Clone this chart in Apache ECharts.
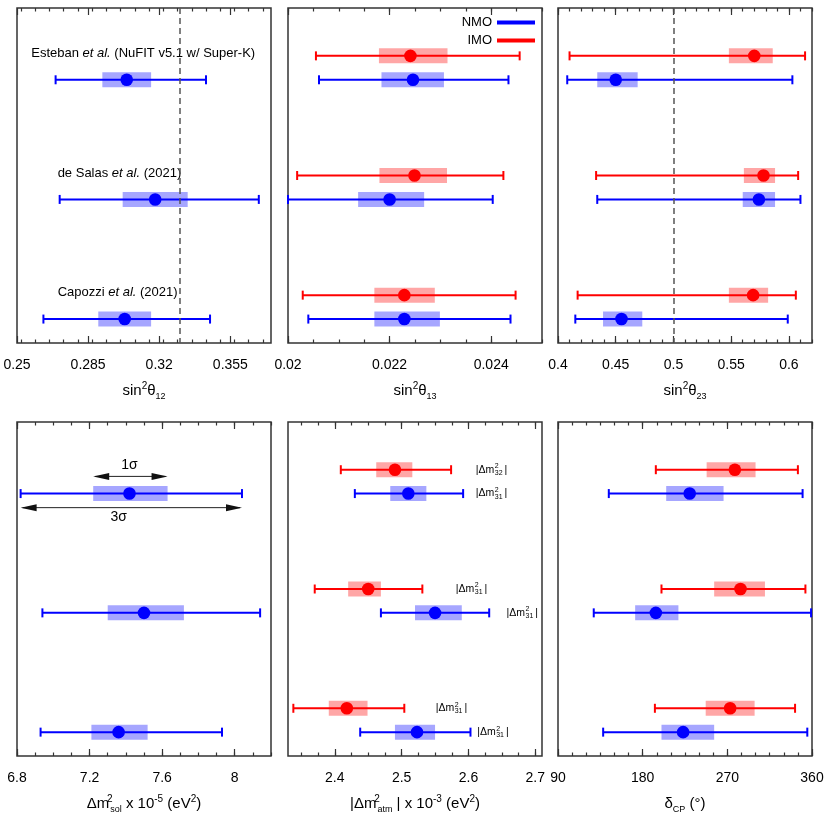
<!DOCTYPE html>
<html>
<head>
<meta charset="utf-8">
<script src="https://cdn.jsdelivr.net/npm/echarts@6/dist/echarts.min.js"></script>
<style>
html, body { margin: 0; padding: 0; background: #fff; }
#main { width: 830px; height: 830px; }
</style>
</head>
<body>
<div id="main"></div>
<script>
// rows on the hidden y axis (inverted): IMO sits just above NMO for each fit
const fitNames = ['Esteban', 'de Salas', 'Capozzi']
const fitTags = ['(NuFIT v5.1 w/ Super-K)', '(2021)', '(2021)']
const rowIMO = [2, 7, 12]
const rowNMO = [3, 8, 13]

// each entry: [3σ low, 1σ low, best fit, 1σ high, 3σ high]
const s12NMO = [[0.269, 0.292, 0.304, 0.316, 0.343], [0.271, 0.302, 0.318, 0.334, 0.369], [0.263, 0.290, 0.303, 0.316, 0.345]]
const s13NMO = [[0.02061, 0.02184, 0.02246, 0.02307, 0.02434], [0.02000, 0.02138, 0.02200, 0.02268, 0.02403], [0.02040, 0.02170, 0.02229, 0.02299, 0.02438]]
const s13IMO = [[0.02055, 0.02179, 0.02241, 0.02314, 0.02456], [0.02018, 0.02180, 0.02249, 0.02313, 0.02424], [0.02029, 0.02170, 0.02229, 0.02289, 0.02448]]
const s23NMO = [[0.408, 0.434, 0.450, 0.469, 0.603], [0.434, 0.560, 0.574, 0.588, 0.610], [0.415, 0.439, 0.455, 0.473, 0.599]]
const s23IMO = [[0.410, 0.548, 0.570, 0.586, 0.614], [0.433, 0.561, 0.578, 0.588, 0.608], [0.417, 0.548, 0.569, 0.582, 0.606]]
const dm21NMO = [[6.82, 7.22, 7.42, 7.63, 8.04], [6.94, 7.30, 7.50, 7.72, 8.14], [6.93, 7.21, 7.36, 7.52, 7.93]]
const dm3lNMO = [[2.430, 2.483, 2.510, 2.537, 2.592], [2.469, 2.520, 2.550, 2.590, 2.631], [2.438, 2.490, 2.523, 2.550, 2.603]]
const dm3lIMO = [[2.409, 2.462, 2.490, 2.516, 2.574], [2.370, 2.420, 2.450, 2.469, 2.531], [2.338, 2.391, 2.418, 2.449, 2.504]]
const dcpNMO = [[144, 205, 230, 266, 350], [128, 172, 194, 218, 359], [138, 200, 223, 256, 355]]
const dcpIMO = [[194, 248, 278, 300, 345], [200, 256, 284, 310, 353], [193, 247, 273, 299, 342]]

// reference lines (dashed)
const refS12 = [0.332]
const refS23 = [0.5]

// tick labels
const ticksS12 = [0.25, 0.285, 0.32, 0.355]
const ticksS13 = [0.02, 0.022, 0.024]
const ticksS23 = [0.4, 0.45, 0.5, 0.55, 0.6]
const ticksDm21 = [6.8, 7.2, 7.6, 8]
const ticksDm3l = [2.4, 2.5, 2.6, 2.7]
const ticksDcp = [90, 180, 270, 360]

// annotations
const sigmaLabels = ['1σ', '3σ']
const sigmaArrowY = [2.28, 3.59]
const sigmaTextX = [7.42, 7.36]
const sigmaTextY = [1.81, 4.0]
const fitLabelX = [0.257, 0.27, 0.27]
const fitLabelY = [1.9, 6.9, 11.9]
const atmSubIMO = ['32', '31', '31']
const atmSubNMO = ['31', '31', '31']
const atmLabelXIMO = [2.611, 2.581, 2.551]
const atmLabelXNMO = [2.611, 2.657, 2.613]

const FONT = '"Liberation Sans", Arial, Helvetica, sans-serif'
const BLUE = '#0000ff', RED = '#ff0000'
const BLUE_BOX = 'rgba(0,0,255,0.35)', RED_BOX = 'rgba(255,0,0,0.35)'

const nameRich = {
  t: { fontSize: 15, lineHeight: 20, fontFamily: FONT, color: '#000' },
  sp: { fontSize: 10, lineHeight: 10, verticalAlign: 'top', fontFamily: FONT, color: '#000' },
  sz: { fontSize: 10, lineHeight: 10, verticalAlign: 'top', fontFamily: FONT, color: '#000', width: 1 },
  sb: { fontSize: 9, lineHeight: 6, verticalAlign: 'bottom', fontFamily: FONT, color: '#000' }
}

const panels = [
  { range: [0.25, 0.375], major: ticksS12, step: 0.007, name: '{t|sin}{sp|2}{t|θ}{sb|12}' },
  { range: [0.02, 0.025], major: ticksS13, step: 0.0005, name: '{t|sin}{sp|2}{t|θ}{sb|13}' },
  { range: [0.4, 0.62], major: ticksS23, step: 0.01, name: '{t|sin}{sp|2}{t|θ}{sb|23}' },
  { range: [6.8, 8.2], major: ticksDm21, step: 0.1, name: '{t|Δm}{sz|2}{sb|sol}{t| x 10}{sp|-5}{t| (eV}{sp|2}{t|)}' },
  { range: [2.33, 2.71], major: ticksDm3l, step: 0.025, name: '{t||Δm}{sz|2}{sb|atm}{t| | x 10}{sp|-3}{t| (eV}{sp|2}{t|)}' },
  { range: [90, 360], major: ticksDcp, step: 15, name: '{t|δ}{sb|CP}{t| (°)}' }
]

function minorTicks(min, max, step) {
  const out = []
  for (let k = Math.ceil(min / step - 1e-9); k * step <= max + 1e-9; k++) out.push(+(k * step).toFixed(6))
  return out
}

const colLeft = [17, 288, 558]
const rowTop = [8, 422]
const rowH = [335, 334]
const W = 254

const grid = [], xAxis = [], yAxis = [], series = []
const tickStyle = { color: '#333', width: 1.2 }

panels.forEach((p, i) => {
  const left = colLeft[i % 3], top = rowTop[Math.floor(i / 3)], height = rowH[Math.floor(i / 3)]
  const g = grid.length
  grid.push({ left, top, width: W, height, show: true, borderColor: '#333', borderWidth: 1.5, outerBoundsMode: 'none' })
  grid.push({ left, top, width: W, height, show: false, outerBoundsMode: 'none' })
  const minor = minorTicks(p.range[0], p.range[1], p.step)
  const base = { type: 'value', min: p.range[0], max: p.range[1], axisLine: { show: false, onZero: false }, splitLine: { show: false } }
  xAxis.push(Object.assign({}, base, {
    gridIndex: g, position: 'bottom',
    axisTick: { inside: true, length: 7, customValues: p.major, lineStyle: tickStyle },
    axisLabel: { customValues: p.major, margin: 15, fontSize: 14, fontFamily: FONT, color: '#000', formatter: v => String(v) },
    name: p.name, nameLocation: 'middle', nameGap: 38, nameTextStyle: { rich: nameRich }
  }))
  xAxis.push(Object.assign({}, base, {
    gridIndex: g, position: 'top',
    axisTick: { inside: true, length: 7, customValues: p.major, lineStyle: tickStyle },
    axisLabel: { show: false }
  }))
  xAxis.push(Object.assign({}, base, {
    gridIndex: g + 1, position: 'bottom',
    axisTick: { inside: true, length: 3.5, customValues: minor, lineStyle: tickStyle },
    axisLabel: { show: false }
  }))
  xAxis.push(Object.assign({}, base, {
    gridIndex: g + 1, position: 'top',
    axisTick: { inside: true, length: 3.5, customValues: minor, lineStyle: tickStyle },
    axisLabel: { show: false }
  }))
  yAxis.push({ gridIndex: g, type: 'value', min: 0, max: 14, inverse: true, show: false })
  yAxis.push({ gridIndex: g + 1, type: 'value', min: 0, max: 14, inverse: true, show: false })
})

function errBars(name, rows, vals, color, fill, panel, extra) {
  return Object.assign({
    type: 'custom', name, xAxisIndex: panel * 4, yAxisIndex: panel * 2,
    itemStyle: { color },
    encode: { x: [1, 2, 3, 4, 5], y: 0 },
    data: vals.map((v, k) => [rows[k]].concat(v)),
    renderItem: (params, api) => {
      const y = api.value(0)
      const a3 = api.coord([api.value(1), y])
      const a1 = api.coord([api.value(2), y])
      const b = api.coord([api.value(3), y])
      const b1 = api.coord([api.value(4), y])
      const b3 = api.coord([api.value(5), y])
      const cy = b[1]
      const ln = { stroke: color, lineWidth: 2 }
      return {
        type: 'group', children: [
          { type: 'rect', shape: { x: a1[0], y: cy - 7.5, width: b1[0] - a1[0], height: 15 }, style: { fill } },
          { type: 'line', shape: { x1: a3[0], y1: cy, x2: b3[0], y2: cy }, style: ln },
          { type: 'line', shape: { x1: a3[0], y1: cy - 4.5, x2: a3[0], y2: cy + 4.5 }, style: ln },
          { type: 'line', shape: { x1: b3[0], y1: cy - 4.5, x2: b3[0], y2: cy + 4.5 }, style: ln },
          { type: 'circle', shape: { cx: b[0], cy, r: 6.3 }, style: { fill: color } }
        ]
      }
    }
  }, extra || {})
}

function dashed(vals) {
  return {
    silent: true, symbol: ['none', 'none'], label: { show: false },
    lineStyle: { color: '#555', type: [6, 4], width: 1.5 },
    data: vals.map(v => ({ xAxis: v }))
  }
}

series.push(errBars('NMO', rowNMO, s12NMO, BLUE, BLUE_BOX, 0, { markLine: dashed(refS12) }))
series.push(errBars('IMO', rowIMO, s13IMO, RED, RED_BOX, 1))
series.push(errBars('NMO', rowNMO, s13NMO, BLUE, BLUE_BOX, 1))
series.push(errBars('IMO', rowIMO, s23IMO, RED, RED_BOX, 2, { markLine: dashed(refS23) }))
series.push(errBars('NMO', rowNMO, s23NMO, BLUE, BLUE_BOX, 2))
series.push(errBars('NMO', rowNMO, dm21NMO, BLUE, BLUE_BOX, 3))
series.push(errBars('IMO', rowIMO, dm3lIMO, RED, RED_BOX, 4))
series.push(errBars('NMO', rowNMO, dm3lNMO, BLUE, BLUE_BOX, 4))
series.push(errBars('IMO', rowIMO, dcpIMO, RED, RED_BOX, 5))
series.push(errBars('NMO', rowNMO, dcpNMO, BLUE, BLUE_BOX, 5))

// fit names in the first panel
series.push({
  type: 'custom', xAxisIndex: 0, yAxisIndex: 0, silent: true,
  encode: { x: 0, y: 1 },
  data: fitLabelX.map((x, k) => [x, fitLabelY[k]]),
  renderItem: (params, api) => {
    const k = params.dataIndex
    const pt = api.coord([api.value(0), api.value(1)])
    return {
      type: 'text', x: pt[0], y: pt[1],
      style: {
        text: '{n|' + fitNames[k] + ' }{i|et al.}{n| ' + fitTags[k] + '}',
        align: 'left', verticalAlign: 'middle',
        rich: {
          n: { fontSize: 13, fontFamily: FONT, fill: '#000' },
          i: { fontSize: 13, fontFamily: FONT, fill: '#000', fontStyle: 'italic' }
        }
      }
    }
  }
})

// 1σ / 3σ arrows in the Δm²sol panel, taken from the first fit
const esteban = dm21NMO[0]
series.push({
  type: 'custom', xAxisIndex: 12, yAxisIndex: 6, silent: true,
  encode: { x: [0, 1], y: 2 },
  data: [[esteban[1], esteban[3], sigmaArrowY[0]], [esteban[0], esteban[4], sigmaArrowY[1]]],
  renderItem: (params, api) => {
    const k = params.dataIndex
    const a = api.coord([api.value(0), api.value(2)])
    const b = api.coord([api.value(1), api.value(2)])
    const t = api.coord([sigmaTextX[k], sigmaTextY[k]])
    const L = 16, H = 3.5, y = a[1]
    return {
      type: 'group', children: [
        { type: 'line', shape: { x1: a[0] + 2, y1: y, x2: b[0] - 2, y2: y }, style: { stroke: '#222', lineWidth: 1 } },
        { type: 'polygon', shape: { points: [[a[0], y], [a[0] + L, y - H], [a[0] + L, y + H]] }, style: { fill: '#111' } },
        { type: 'polygon', shape: { points: [[b[0], y], [b[0] - L, y - H], [b[0] - L, y + H]] }, style: { fill: '#111' } },
        { type: 'text', x: t[0], y: t[1], style: { text: sigmaLabels[k], fontSize: 14, fontFamily: FONT, fill: '#000', align: 'center', verticalAlign: 'middle' } }
      ]
    }
  }
})

// |Δm²3l| tags in the atmospheric panel
const measureCtx = document.createElement('canvas').getContext('2d')
function textW(s, size) {
  measureCtx.font = size + 'px ' + FONT
  return measureCtx.measureText(s).width
}
const atmSubs = atmSubIMO.concat(atmSubNMO)
series.push({
  type: 'custom', xAxisIndex: 16, yAxisIndex: 8, silent: true,
  encode: { x: 0, y: 1 },
  data: atmLabelXIMO.map((x, k) => [x, rowIMO[k]]).concat(atmLabelXNMO.map((x, k) => [x, rowNMO[k]])),
  renderItem: (params, api) => {
    const k = params.dataIndex
    const p = api.coord([api.value(0), api.value(1)])
    const sub = atmSubs[k]
    const base = '|Δm'
    const w1 = textW(base, 10.5)
    const wS = textW(sub, 7)
    const st = (text, size) => ({ text, fontSize: size, fontFamily: FONT, fill: '#000', align: 'left', verticalAlign: 'middle' })
    return {
      type: 'group', children: [
        { type: 'text', x: p[0], y: p[1], style: st(base, 10.5) },
        { type: 'text', x: p[0] + w1 + 0.5, y: p[1] - 3.5, style: st('2', 7) },
        { type: 'text', x: p[0] + w1 + 0.5, y: p[1] + 3, style: st(sub, 7) },
        { type: 'text', x: p[0] + w1 + wS + 2.5, y: p[1], style: st('|', 10.5) }
      ]
    }
  }
})

const chart = echarts.init(document.getElementById('main'))
chart.setOption({
  animation: false,
  backgroundColor: '#fff',
  legend: {
    data: ['NMO', 'IMO'], orient: 'vertical', right: 295, top: 16, align: 'right',
    icon: 'rect', itemWidth: 38, itemHeight: 4, itemGap: 5, padding: 0, selectedMode: false,
    textStyle: { fontSize: 13, fontFamily: FONT, color: '#000' }
  },
  grid, xAxis, yAxis, series
})
</script>
</body>
</html>
